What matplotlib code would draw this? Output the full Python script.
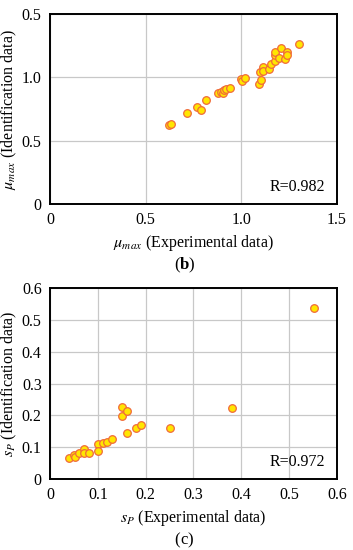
import matplotlib
matplotlib.use("Agg")
import matplotlib.pyplot as plt

plt.rcParams['font.family'] = ['Liberation Serif', 'DejaVu Serif']
plt.rcParams['mathtext.fontset'] = 'stix'

# panel (b): mu_max
mu_exp = [0.624, 0.630, 0.714, 0.768, 0.789, 0.814, 0.880, 0.892, 0.906, 0.911, 0.920, 0.941,
          0.997, 1.005, 1.019, 1.092, 1.101, 1.098, 1.115, 1.115, 1.143, 1.153, 1.176, 1.178,
          1.178, 1.199, 1.207, 1.230, 1.240, 1.240, 1.300]
mu_id = [0.625, 0.628, 0.720, 0.767, 0.743, 0.820, 0.875, 0.883, 0.875, 0.901, 0.911, 0.914,
         0.985, 0.975, 0.996, 0.951, 0.982, 1.040, 1.080, 1.050, 1.066, 1.103, 1.132, 1.179,
         1.203, 1.156, 1.229, 1.145, 1.200, 1.177, 1.263]
mu_xticks = [0, 0.5, 1.0, 1.5]
mu_xlabels = ['0', '0.5', '1.0', '1.5']
mu_yticks = [0, 0.5, 1.0, 1.5]
mu_ylabels = ['0', '0.5', '1.0', '0.5']

# panel (c): s_P
sp_exp = [0.040, 0.050, 0.052, 0.061, 0.071, 0.071, 0.081, 0.101, 0.101, 0.110, 0.120, 0.130,
          0.150, 0.150, 0.160, 0.160, 0.180, 0.190, 0.251, 0.381, 0.551]
sp_id = [0.065, 0.075, 0.069, 0.081, 0.093, 0.083, 0.083, 0.110, 0.089, 0.114, 0.118, 0.125,
         0.199, 0.228, 0.213, 0.145, 0.162, 0.170, 0.159, 0.223, 0.538]
sp_ticks = [0, 0.1, 0.2, 0.3, 0.4, 0.5, 0.6]
sp_labels = ['0', '0.1', '0.2', '0.3', '0.4', '0.5', '0.6']

fill = '#FFE600'
edge = '#F06A3A'

fig = plt.figure(figsize=(3.53, 5.50), dpi=100)


def panel(ax, x, y, xlim, ylim, xt, xl, yt, yl, xlab, ylab, rtext):
    ax.set_axisbelow(True)
    ax.grid(True, color='#c8c8c8', linewidth=0.9)
    ax.scatter(x, y, s=30, c=fill, edgecolors=edge, linewidths=0.9, zorder=3)
    ax.set_xlim(*xlim)
    ax.set_ylim(*ylim)
    ax.set_xticks(xt)
    ax.set_xticklabels(xl)
    ax.set_yticks(yt)
    ax.set_yticklabels(yl)
    ax.tick_params(length=0, labelsize=11.5, pad=6)
    for s in ax.spines.values():
        s.set_linewidth(1.4)
    ax.set_xlabel(xlab, fontsize=11.5, labelpad=3)
    ax.set_ylabel(ylab, fontsize=11.5, labelpad=2)
    ax.text(0.96, 0.05, rtext, transform=ax.transAxes, ha='right', va='bottom', fontsize=11.5)


ax1 = fig.add_axes([0.1416, 0.629, 0.813, 0.3455])
panel(ax1, mu_exp, mu_id, (0, 1.5), (0, 1.5), mu_xticks, mu_xlabels, mu_yticks, mu_ylabels,
      r'$\mu_{max}$ (Experimental data)', r'$\mu_{max}$ (Identification data)', 'R=0.982')

ax2 = fig.add_axes([0.1416, 0.129, 0.813, 0.347])
panel(ax2, sp_exp, sp_id, (0, 0.6), (0, 0.6), sp_ticks, sp_labels, sp_ticks, sp_labels,
      r'$s_P$ (Experimental data)', r'$s_P$ (Identification data)', 'R=0.972')

fig.text(0.51, 1 - 265 / 550, '(', ha='right', va='center', fontsize=12)
fig.text(0.51, 1 - 265 / 550, 'b', ha='left', va='center', fontsize=12, fontweight='bold')
fig.text(0.51 + 0.025, 1 - 265 / 550, ')', ha='left', va='center', fontsize=12)
fig.text(0.51, 1 - 540 / 550, '(', ha='right', va='center', fontsize=12)
fig.text(0.51, 1 - 540 / 550, 'c', ha='left', va='center', fontsize=12)
fig.text(0.51 + 0.021, 1 - 540 / 550, ')', ha='left', va='center', fontsize=12)

fig.savefig('out.png', dpi=100)
